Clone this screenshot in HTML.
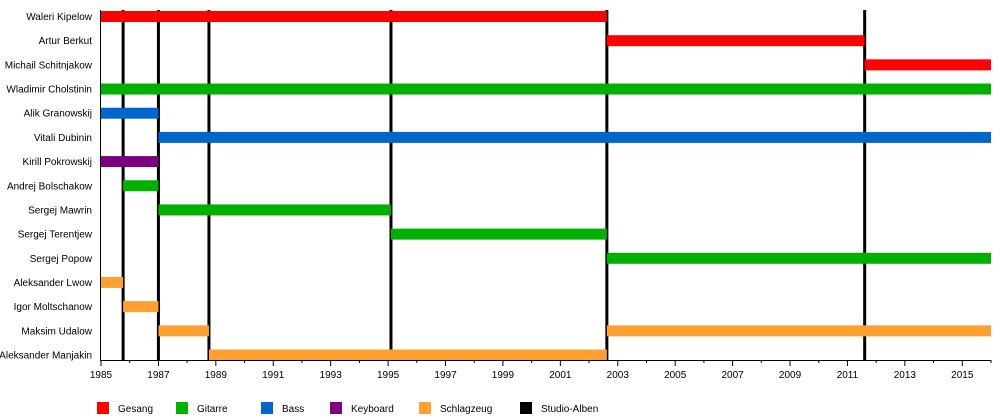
<!DOCTYPE html>
<html><head><meta charset="utf-8"><style>
body{margin:0;background:#fff}
svg{display:block;font-family:"Liberation Sans",Arial,sans-serif}
</style></head><body>
<svg id="c" width="1000" height="420"></svg>
<script>
const members=["Waleri Kipelow","Artur Berkut","Michail Schitnjakow","Wladimir Cholstinin","Alik Granowskij","Vitali Dubinin","Kirill Pokrowskij","Andrej Bolschakow","Sergej Mawrin","Sergej Terentjew","Sergej Popow","Aleksander Lwow","Igor Moltschanow","Maksim Udalow","Aleksander Manjakin"];
const barRow=[0,1,2,3,4,5,6,7,8,9,10,11,12,13,13,14];
const barStart=[1985,2002.62,2011.6,1985,1985,1987,1985,1985.77,1987,1995.1,2002.62,1985,1985.77,1987,2002.62,1988.76];
const barEnd=[2002.62,2011.6,2016,2016,1987,2016,1987,1987,1995.1,2002.62,2016,1985.77,1987,1988.76,2016,2002.62];
const barRole=["Gesang","Gesang","Gesang","Gitarre","Bass","Bass","Keyboard","Gitarre","Gitarre","Gitarre","Gitarre","Schlagzeug","Schlagzeug","Schlagzeug","Schlagzeug","Schlagzeug"];
const albums=[1985.77,1987.0,1988.76,1995.1,2002.62,2011.6];
const roles=["Gesang","Gitarre","Bass","Keyboard","Schlagzeug","Studio-Alben"];
const roleColors=["#ff0000","#00b000","#0066cc","#7a0080","#ffa030","#000000"];
const legendX=[97,176,261,330,419,520];
const tickYears=[1985,1987,1989,1991,1993,1995,1997,1999,2001,2003,2005,2007,2009,2011,2013,2015];

const NS="http://www.w3.org/2000/svg";
const svg=document.getElementById('c');
const x0=101,x1=991,yTop=10,yAxis=360,y0Year=1985,y1Year=2016;
const firstC=16.5,lastC=355;
const rowH=(lastC-firstC)/(members.length-1);
function X(v){return x0+(v-y0Year)/(y1Year-y0Year)*(x1-x0);}
function Yc(i){return firstC+rowH*i;}
function mk(t,a){const e=document.createElementNS(NS,t);for(const k in a)e.setAttribute(k,a[k]);svg.appendChild(e);return e;}

members.forEach((m,i)=>{
  const t=mk('text',{x:92,y:Yc(i)+3.5,'text-anchor':'end','font-size':10,fill:'#000'});
  t.textContent=m;
  
  
});
albums.forEach(a=>{
  const l=mk('line',{x1:X(a),x2:X(a),y1:yTop,y2:yAxis,stroke:'#000','stroke-width':3});
  
  
});
barRow.forEach((r,i)=>{
  const c=roleColors[roles.indexOf(barRole[i])];
  const b=mk('rect',{x:X(barStart[i]),y:Yc(r)-5.5,width:X(barEnd[i])-X(barStart[i]),height:11,fill:c});
  
  
});
const ax=mk('line',{x1:x0-0.5,x2:x0-0.5,y1:yTop,y2:yAxis,stroke:'#000','stroke-width':1});


const xa=mk('line',{x1:x0-1,x2:x1,y1:yAxis+0.5,y2:yAxis+0.5,stroke:'#000','stroke-width':1});


for(let y=y0Year;y<=y1Year;y++){
  const major=tickYears.includes(y);
  const tk=mk('line',{x1:X(y),x2:X(y),y1:yAxis,y2:yAxis+(major?6:3),stroke:'#000','stroke-width':1});
  
  
}
tickYears.forEach(y=>{
  const t=mk('text',{x:X(y),y:378,'text-anchor':'middle','font-size':10,fill:'#000'});
  t.textContent=y;
  
  
});
roles.forEach((r,i)=>{
  const s=mk('rect',{x:legendX[i],y:402,width:12,height:12,fill:roleColors[i]});
  
  
  const t=mk('text',{x:legendX[i]+21,y:412,'font-size':10,fill:'#000'});
  t.textContent=r;
  
  
});
</script>
</body></html>
